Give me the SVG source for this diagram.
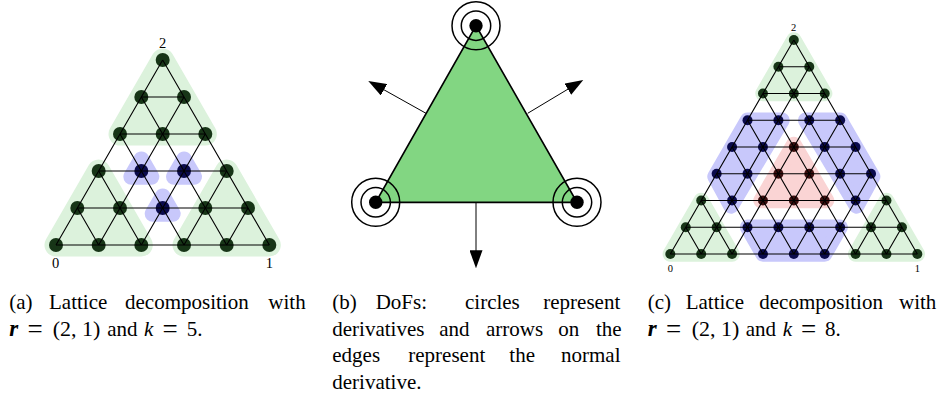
<svg xmlns="http://www.w3.org/2000/svg" width="942" height="398" viewBox="0 0 942 398">
<style>
text{font-family:"Liberation Serif","Times New Roman",serif;fill:#000}
.cap{font-size:21px}
.eq{font-size:27px}
.par{font-size:22px}
.rv{font-size:23px;font-weight:bold;font-style:italic}
.lab{font-size:14.5px;text-anchor:middle}
.lab2{font-size:10.5px;text-anchor:middle}
.g{fill:#dcf2dc;stroke:#dcf2dc;stroke-linejoin:round}
.b{fill:#c8c8fb;stroke:#c8c8fb;stroke-linejoin:round}
.r{fill:#fad4d4;stroke:#fad4d4;stroke-linejoin:round}
.ng{fill:#173517}.nb{fill:#0b0b4d}.nr{fill:#3c0f0f}
.e{stroke:#000;stroke-width:1.1;fill:none}
.ring{fill:none;stroke:#000;stroke-width:1.5}
.arrow{stroke:#000;stroke-width:1;fill:none;marker-end:url(#head)}
</style>
<defs>
<marker id="head" markerUnits="userSpaceOnUse" markerWidth="18" markerHeight="13" refX="8" refY="6.5" orient="auto"><path d="M0 0L18 6.5L0 13Z" fill="#000"/></marker>
</defs>
<rect width="942" height="398" fill="#fff"/>

<g id="regions-a" stroke-width="23">
<polygon class="g" points="56,245 141.33,245 98.67,171"/>
<polygon class="g" points="184,245 269.33,245 226.67,171"/>
<polygon class="g" points="162.67,60 205.33,134 120,134"/>
<g stroke-width="16">
<polygon class="b" points="141.33,159.5 151.33,176.75 131.33,176.75"/>
<polygon class="b" points="184,159.5 194,176.75 174,176.75"/>
<polygon class="b" points="162.67,196.5 172.67,213.75 152.67,213.75"/>
</g>
</g>
<g id="nodes-a">
<g id="a0-0"><circle class="ng" cx="56" cy="245" r="7"/></g>
<g id="a0-1"><circle class="ng" cx="98.67" cy="245" r="7"/></g>
<g id="a0-2"><circle class="ng" cx="141.33" cy="245" r="7"/></g>
<g id="a0-3"><circle class="ng" cx="184" cy="245" r="7"/></g>
<g id="a0-4"><circle class="ng" cx="226.67" cy="245" r="7"/></g>
<g id="a0-5"><circle class="ng" cx="269.33" cy="245" r="7"/></g>
<g id="a1-0"><circle class="ng" cx="77.33" cy="208" r="7"/></g>
<g id="a1-1"><circle class="ng" cx="120" cy="208" r="7"/></g>
<g id="a1-2"><circle class="nb" cx="162.67" cy="208" r="7"/></g>
<g id="a1-3"><circle class="ng" cx="205.33" cy="208" r="7"/></g>
<g id="a1-4"><circle class="ng" cx="248" cy="208" r="7"/></g>
<g id="a2-0"><circle class="ng" cx="98.67" cy="171" r="7"/></g>
<g id="a2-1"><circle class="nb" cx="141.33" cy="171" r="7"/></g>
<g id="a2-2"><circle class="nb" cx="184" cy="171" r="7"/></g>
<g id="a2-3"><circle class="ng" cx="226.67" cy="171" r="7"/></g>
<g id="a3-0"><circle class="ng" cx="120" cy="134" r="7"/></g>
<g id="a3-1"><circle class="ng" cx="162.67" cy="134" r="7"/></g>
<g id="a3-2"><circle class="ng" cx="205.33" cy="134" r="7"/></g>
<g id="a4-0"><circle class="ng" cx="141.33" cy="97" r="7"/></g>
<g id="a4-1"><circle class="ng" cx="184" cy="97" r="7"/></g>
<g id="a5-0"><circle class="ng" cx="162.67" cy="60" r="7"/></g>
</g>
<g id="connectors-a" class="e">
<path d="M56 245H269.33M77.33 208H248M98.67 171H226.67M120 134H205.33M141.33 97H184"/>
<path d="M56 245L162.67 60M98.67 245L184 97M141.33 245L205.33 134M184 245L226.67 171M226.67 245L248 208"/>
<path d="M269.33 245L162.67 60M226.67 245L141.33 97M184 245L120 134M141.33 245L98.67 171M98.67 245L77.33 208"/>
</g>
<text class="lab" x="162.7" y="47.5">2</text>
<text class="lab" x="55.7" y="268">0</text>
<text class="lab" x="269.3" y="268">1</text>

<g id="triangle-b">
<polygon points="476,25.7 577,202.3 375.7,202.3" fill="#82d682" stroke="#000" stroke-width="1.7" stroke-linejoin="round"/>
</g>
<g id="connectors-b">
<line class="arrow" x1="426" y1="113.3" x2="377" y2="85.9"/>
<line class="arrow" x1="527.7" y1="113.3" x2="574.7" y2="85.1"/>
<line class="arrow" x1="476" y1="202.3" x2="476" y2="258.3"/>
</g>
<g id="dof-top"><circle cx="476" cy="25.7" r="6.7"/><circle class="ring" cx="476" cy="25.7" r="14.7"/><circle class="ring" cx="476" cy="25.7" r="24"/></g>
<g id="dof-left"><circle cx="375.7" cy="202.3" r="6.7"/><circle class="ring" cx="375.7" cy="202.3" r="14.7"/><circle class="ring" cx="375.7" cy="202.3" r="24"/></g>
<g id="dof-right"><circle cx="577" cy="202.3" r="6.7"/><circle class="ring" cx="577" cy="202.3" r="14.7"/><circle class="ring" cx="577" cy="202.3" r="24"/></g>

<g id="regions-c" stroke-width="15.4">
<polygon class="g" points="670.33,254 732.08,254 701.2,200.5"/>
<polygon class="g" points="855.58,254 917.33,254 886.46,200.5"/>
<polygon class="g" points="793.83,40 824.7,93.5 762.96,93.5"/>
<polygon class="b" points="762.96,254 824.7,254 840.15,227.25 747.52,227.25"/>
<polygon class="b" points="747.52,120.25 782,120.25 731,206 715,176.5"/>
<polygon class="b" points="840.14,120.25 805.66,120.25 856.66,206 872.66,176.5"/>
<polygon class="r" points="761,200.6 826.6,200.6 793.83,144.4"/>
</g>
<g id="nodes-c">
<g id="c0-0"><circle class="ng" cx="670.33" cy="254" r="5"/></g>
<g id="c0-1"><circle class="ng" cx="701.2" cy="254" r="5"/></g>
<g id="c0-2"><circle class="ng" cx="732.08" cy="254" r="5"/></g>
<g id="c0-3"><circle class="nb" cx="762.96" cy="254" r="5"/></g>
<g id="c0-4"><circle class="nb" cx="793.83" cy="254" r="5"/></g>
<g id="c0-5"><circle class="nb" cx="824.7" cy="254" r="5"/></g>
<g id="c0-6"><circle class="ng" cx="855.58" cy="254" r="5"/></g>
<g id="c0-7"><circle class="ng" cx="886.46" cy="254" r="5"/></g>
<g id="c0-8"><circle class="ng" cx="917.33" cy="254" r="5"/></g>
<g id="c1-0"><circle class="ng" cx="685.77" cy="227.25" r="5"/></g>
<g id="c1-1"><circle class="ng" cx="716.65" cy="227.25" r="5"/></g>
<g id="c1-2"><circle class="nb" cx="747.52" cy="227.25" r="5"/></g>
<g id="c1-3"><circle class="nb" cx="778.4" cy="227.25" r="5"/></g>
<g id="c1-4"><circle class="nb" cx="809.27" cy="227.25" r="5"/></g>
<g id="c1-5"><circle class="nb" cx="840.15" cy="227.25" r="5"/></g>
<g id="c1-6"><circle class="ng" cx="871.02" cy="227.25" r="5"/></g>
<g id="c1-7"><circle class="ng" cx="901.9" cy="227.25" r="5"/></g>
<g id="c2-0"><circle class="ng" cx="701.2" cy="200.5" r="5"/></g>
<g id="c2-1"><circle class="nb" cx="732.08" cy="200.5" r="5"/></g>
<g id="c2-2"><circle class="nr" cx="762.96" cy="200.5" r="5"/></g>
<g id="c2-3"><circle class="nr" cx="793.83" cy="200.5" r="5"/></g>
<g id="c2-4"><circle class="nr" cx="824.7" cy="200.5" r="5"/></g>
<g id="c2-5"><circle class="nb" cx="855.58" cy="200.5" r="5"/></g>
<g id="c2-6"><circle class="ng" cx="886.46" cy="200.5" r="5"/></g>
<g id="c3-0"><circle class="nb" cx="716.65" cy="173.75" r="5"/></g>
<g id="c3-1"><circle class="nb" cx="747.52" cy="173.75" r="5"/></g>
<g id="c3-2"><circle class="nr" cx="778.4" cy="173.75" r="5"/></g>
<g id="c3-3"><circle class="nr" cx="809.27" cy="173.75" r="5"/></g>
<g id="c3-4"><circle class="nb" cx="840.15" cy="173.75" r="5"/></g>
<g id="c3-5"><circle class="nb" cx="871.02" cy="173.75" r="5"/></g>
<g id="c4-0"><circle class="nb" cx="732.08" cy="147" r="5"/></g>
<g id="c4-1"><circle class="nb" cx="762.96" cy="147" r="5"/></g>
<g id="c4-2"><circle class="nr" cx="793.83" cy="147" r="5"/></g>
<g id="c4-3"><circle class="nb" cx="824.7" cy="147" r="5"/></g>
<g id="c4-4"><circle class="nb" cx="855.58" cy="147" r="5"/></g>
<g id="c5-0"><circle class="nb" cx="747.52" cy="120.25" r="5"/></g>
<g id="c5-1"><circle class="nb" cx="778.4" cy="120.25" r="5"/></g>
<g id="c5-2"><circle class="nb" cx="809.27" cy="120.25" r="5"/></g>
<g id="c5-3"><circle class="nb" cx="840.15" cy="120.25" r="5"/></g>
<g id="c6-0"><circle class="ng" cx="762.96" cy="93.5" r="5"/></g>
<g id="c6-1"><circle class="ng" cx="793.83" cy="93.5" r="5"/></g>
<g id="c6-2"><circle class="ng" cx="824.7" cy="93.5" r="5"/></g>
<g id="c7-0"><circle class="ng" cx="778.4" cy="66.75" r="5"/></g>
<g id="c7-1"><circle class="ng" cx="809.27" cy="66.75" r="5"/></g>
<g id="c8-0"><circle class="ng" cx="793.83" cy="40" r="5"/></g>
</g>
<g id="connectors-c" class="e">
<path d="M670.33 254H917.33M685.77 227.25H901.9M701.2 200.5H886.46M716.65 173.75H871.02M732.08 147H855.58M747.52 120.25H840.15M762.96 93.5H824.7M778.4 66.75H809.27"/>
<path d="M670.33 254L793.83 40M701.2 254L809.27 66.75M732.08 254L824.7 93.5M762.96 254L840.15 120.25M793.83 254L855.58 147M824.7 254L871.02 173.75M855.58 254L886.46 200.5M886.46 254L901.9 227.25"/>
<path d="M917.33 254L793.83 40M886.46 254L778.4 66.75M855.58 254L762.96 93.5M824.7 254L747.52 120.25M793.83 254L732.08 147M762.96 254L716.65 173.75M732.08 254L701.2 200.5M701.2 254L685.77 227.25"/>
</g>
<text class="lab2" x="793.7" y="30.7">2</text>
<text class="lab2" x="670.3" y="271.7">0</text>
<text class="lab2" x="917.3" y="271.7">1</text>

<g id="captions" class="cap">
<text y="309"><tspan x="9.3">(a)</tspan><tspan x="49">Lattice</tspan><tspan x="125">decomposition</tspan><tspan x="268.3">with</tspan></text>
<text y="336"><tspan class="rv" x="9.3">r</tspan><tspan class="par" x="52.7">(2, 1)</tspan><tspan x="107.3">and</tspan><tspan x="144" font-style="italic">k</tspan><tspan x="186.7">5.</tspan></text>
<text class="eq" x="27.5" y="338">=</text>
<text class="eq" x="162.5" y="338">=</text>
<text y="309"><tspan x="332.3">(b)</tspan><tspan x="375.7">DoFs:</tspan><tspan x="465">circles</tspan><tspan x="543.3">represent</tspan></text>
<text y="336"><tspan x="332.3">derivatives</tspan><tspan x="439.3">and</tspan><tspan x="486">arrows</tspan><tspan x="558.3">on</tspan><tspan x="596">the</tspan></text>
<text y="362.3"><tspan x="332.3">edges</tspan><tspan x="408.3">represent</tspan><tspan x="509.3">the</tspan><tspan x="561">normal</tspan></text>
<text y="389"><tspan x="332.3">derivative.</tspan></text>
<text y="309"><tspan x="647.7">(c)</tspan><tspan x="685.7">Lattice</tspan><tspan x="759.3">decomposition</tspan><tspan x="899">with</tspan></text>
<text y="336"><tspan class="rv" x="647.7">r</tspan><tspan class="par" x="691.7">(2, 1)</tspan><tspan x="745.7">and</tspan><tspan x="782.7" font-style="italic">k</tspan><tspan x="825">8.</tspan></text>
<text class="eq" x="666" y="338">=</text>
<text class="eq" x="801" y="338">=</text>
</g>
</svg>
